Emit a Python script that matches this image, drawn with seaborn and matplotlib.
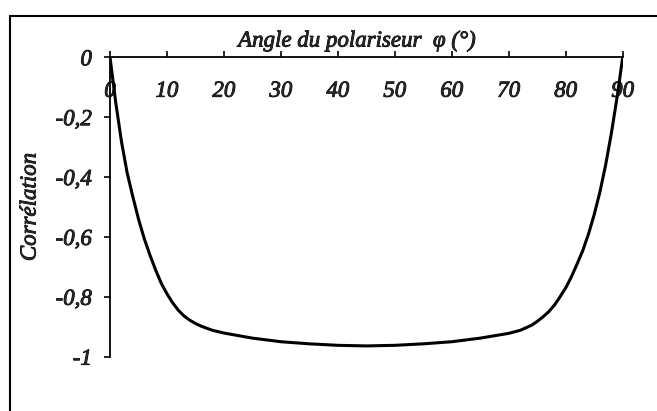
import matplotlib
matplotlib.use('Agg')
import matplotlib.pyplot as plt
import matplotlib.patheffects as pe
from matplotlib.lines import Line2D
import pandas as pd
import seaborn as sns

# Angle du polariseur (deg) and correlation
angles = [0, 1, 2, 3, 4, 5, 6, 7, 8, 9, 10, 11, 12, 13, 14, 15, 16, 18, 20,
          25, 30, 35, 40, 45, 50, 55, 60, 65, 70, 72, 74, 75, 76, 77, 78, 79,
          80, 81, 82, 83, 84, 85, 86, 87, 88, 89, 90]
correlation = [0.0, -0.15, -0.28, -0.385, -0.465, -0.54, -0.605, -0.66, -0.71,
               -0.755, -0.79, -0.82, -0.845, -0.864, -0.878, -0.889, -0.898,
               -0.912, -0.921, -0.938, -0.95, -0.957, -0.962, -0.964, -0.962,
               -0.957, -0.95, -0.938, -0.922, -0.912, -0.895, -0.882, -0.867,
               -0.85, -0.828, -0.80, -0.77, -0.733, -0.69, -0.645, -0.59,
               -0.525, -0.45, -0.36, -0.255, -0.135, 0.0]
x_ticks = [0, 10, 20, 30, 40, 50, 60, 70, 80, 90]
y_ticks = [0, -0.2, -0.4, -0.6, -0.8, -1]
y_tick_labels = ['0', '-0,2', '-0,4', '-0,6', '-0,8', '-1']

df = pd.DataFrame({'angle': angles, 'corr': correlation})

sns.set_style('white')
plt.rcParams['font.family'] = ['Liberation Serif', 'DejaVu Serif']

fig = plt.figure(figsize=(6.57, 4.11), dpi=100)
ax = fig.add_axes([110 / 657, 1 - 356.7 / 411, 512.7 / 657, 299.4 / 411])

sns.lineplot(data=df, x='angle', y='corr', color='black', linewidth=2.2, ax=ax)

ax.set_xlim(0, 90)
ax.set_ylim(-1, 0)
ax.set_xlabel('')
ax.set_ylabel('')

# x axis sits on top (y = 0), ticks point up, labels below the line
for side in ['bottom', 'right']:
    ax.spines[side].set_visible(False)
for side in ['top', 'left']:
    ax.spines[side].set_linewidth(1.3)
    ax.spines[side].set_color('black')

# slightly thickened italic serif, like the scanned original
thick = [pe.withStroke(linewidth=0.6, foreground='black')]
font = dict(family=['Liberation Serif', 'DejaVu Serif'], style='italic', size=16.5)
ax.set_xticks(x_ticks)
ax.set_xticklabels([str(t) for t in x_ticks], fontdict=font)
ax.set_yticks(y_ticks)
ax.set_yticklabels(y_tick_labels, fontdict=font)
ax.tick_params(axis='x', top=True, bottom=False, labeltop=True, labelbottom=False,
               direction='out', length=4, width=1.2, pad=-36, color='black')
ax.tick_params(axis='y', left=True, direction='out', length=4, width=1.2, pad=9,
               color='black')
for tick in ax.xaxis.get_major_ticks() + ax.yaxis.get_major_ticks():
    for lbl in (tick.label1, tick.label2):
        lbl.set_path_effects(thick)
        lbl.set_fontstyle('italic')
        lbl.set_fontsize(16.5)

fig.text(357 / 657, 1 - 41 / 411, 'Angle du polariseur  φ (°)', ha='center',
         va='center', fontdict=font, path_effects=thick)
fig.text(30 / 657, 1 - 207 / 411, 'Corrélation', ha='center', va='center',
         rotation=90, fontdict=font, path_effects=thick)

# frame around the figure (top and left edges only)
fig.add_artist(Line2D([9.5 / 657, 1], [1 - 16 / 411, 1 - 16 / 411],
                      transform=fig.transFigure, color='black', linewidth=1.5))
fig.add_artist(Line2D([9.5 / 657, 9.5 / 657], [0, 1 - 16 / 411],
                      transform=fig.transFigure, color='black', linewidth=1.5))

fig.savefig('out.png', dpi=100)
